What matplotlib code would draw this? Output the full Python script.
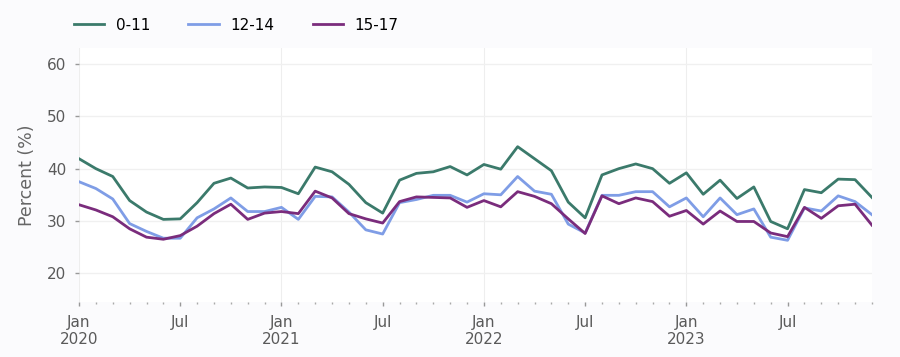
import pandas as pd
import matplotlib.pyplot as plt

# share by age group, monthly Jan 2020 - Dec 2023
meses = pd.date_range('2020-01-01', periods=48, freq='MS')

grupo_0_11 = [41.9, 40.0, 38.5, 33.9, 31.7, 30.3, 30.4, 33.5, 37.2, 38.2, 36.3, 36.5,
              36.4, 35.2, 40.3, 39.4, 37.0, 33.5, 31.5, 37.8, 39.1, 39.4, 40.4, 38.8,
              40.8, 39.9, 44.2, 41.9, 39.6, 33.6, 30.6, 38.8, 40.0, 40.9, 40.0, 37.2,
              39.2, 35.1, 37.8, 34.3, 36.5, 29.9, 28.5, 36.0, 35.4, 38.0, 37.9, 34.5]
grupo_12_14 = [37.5, 36.2, 34.2, 29.5, 28.0, 26.7, 26.7, 30.6, 32.3, 34.4, 31.8, 31.8,
               32.6, 30.3, 34.7, 34.6, 31.7, 28.3, 27.5, 33.5, 34.1, 34.9, 34.9, 33.6,
               35.2, 35.0, 38.5, 35.7, 35.1, 29.4, 27.7, 34.9, 34.9, 35.6, 35.6, 32.7,
               34.4, 30.8, 34.4, 31.2, 32.3, 26.9, 26.3, 32.5, 31.9, 34.8, 33.7, 31.2]
grupo_15_17 = [33.1, 32.1, 30.8, 28.5, 26.9, 26.5, 27.2, 29.0, 31.4, 33.2, 30.3, 31.5,
               31.8, 31.4, 35.7, 34.4, 31.4, 30.4, 29.6, 33.7, 34.6, 34.5, 34.4, 32.6,
               33.9, 32.7, 35.6, 34.7, 33.3, 30.4, 27.6, 34.8, 33.3, 34.4, 33.7, 30.9,
               32.0, 29.4, 31.9, 29.9, 29.9, 27.7, 27.0, 32.6, 30.5, 32.9, 33.2, 29.2]

series = [('0-11', grupo_0_11, '#3b7a6b'),
          ('12-14', grupo_12_14, '#7f9de6'),
          ('15-17', grupo_15_17, '#7a2c7c')]

fig = plt.figure(figsize=(9, 3.57), dpi=100, facecolor='#fbfbfd')
ax = fig.add_axes([0.0878, 0.154, 0.881, 0.712])
ax.set_facecolor('white')

x = list(range(len(meses)))
for nome, valores, cor in series:
    ax.plot(x, valores, color=cor, linewidth=2, label=nome)

ax.set_xlim(0, len(meses) - 1)
ax.set_ylim(14.5, 63.1)

# eixo y
ax.set_yticks([20, 30, 40, 50, 60])
ax.set_ylabel('Percent (%)', fontsize=12.5, color='#666666', labelpad=8)
ax.grid(axis='y', color='#f0f0f0', linewidth=1)

# eixo x: tick menor em cada mês, rótulos em Jan / Jul
jan = [i for i, m in enumerate(meses) if m.month == 1]
rotulos_pos = [i for i, m in enumerate(meses) if m.month in (1, 7)]
rotulos = [f'{m:%b}\n{m.year}' if m.month == 1 else f'{m:%b}'
           for m in meses if m.month in (1, 7)]
ax.set_xticks(rotulos_pos)
ax.set_xticklabels(rotulos)
ax.set_xticks(x, minor=True)
for i in jan:
    ax.axvline(i, color='#eeeeee', linewidth=0.8, zorder=0)

ax.tick_params(axis='both', which='major', labelsize=11, labelcolor='#5a5a5a',
               color='#999999', length=3, width=1)
ax.tick_params(axis='x', which='minor', color='#aaaaaa', length=1.5, width=1)
ax.tick_params(axis='x', which='major', pad=6)
ax.tick_params(axis='y', pad=6)

for lado in ['top', 'right', 'left', 'bottom']:
    ax.spines[lado].set_visible(False)

fig.legend(loc='upper left', bbox_to_anchor=(0.0667, 0.989), ncol=3, frameon=False,
           fontsize=11, handlelength=2.0, columnspacing=2.5, handletextpad=0.75)

plt.savefig('out.png', dpi=100, facecolor=fig.get_facecolor())
